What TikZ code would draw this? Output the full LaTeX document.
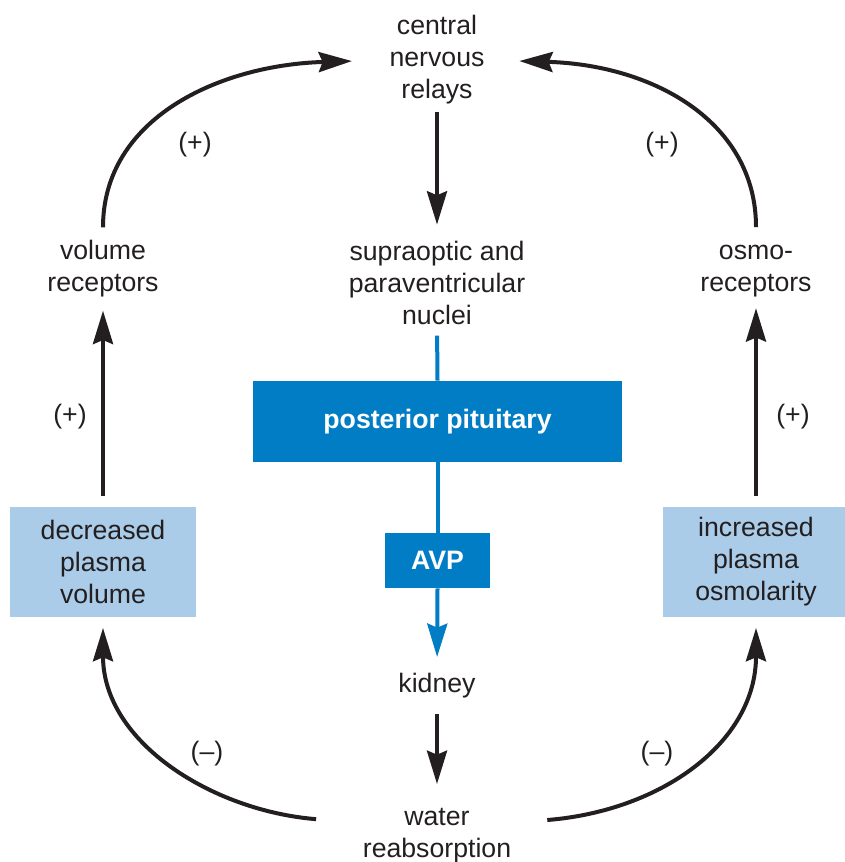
\documentclass[tikz,border=0pt]{standalone}
\usepackage{fontspec}
\setmainfont{Liberation Sans}
\usetikzlibrary{arrows.meta}
\definecolor{ink}{RGB}{35,31,32}
\definecolor{avpblue}{RGB}{0,125,197}
\definecolor{lightblue}{RGB}{171,204,232}
\begin{document}
\begin{tikzpicture}[x=0.75pt,y=-0.75pt,
  every node/.style={font=\fontsize{20}{24}\selectfont, text=ink},
  lbl/.style={inner sep=0pt, align=center},
  sign/.style={inner sep=0pt},
  box/.style={fill=lightblue, inner sep=0pt, minimum width=139.5pt, minimum height=82.5pt, align=center},
  bluebox/.style={fill=avpblue, inner sep=0pt, text=white, font=\fontsize{20}{24}\selectfont\bfseries},
  tip/.style={-{Stealth[length=25pt,width=15pt,inset=3pt]}},
  arr/.style={draw=ink, line width=3pt, tip},
  barr/.style={draw=avpblue, line width=3pt, tip},
  bline/.style={draw=avpblue, line width=3pt}]
\useasboundingbox (0,0) rectangle (844,862);

\node[lbl] (cnr) at (437,60) {central\\nervous\\relays};
\node[lbl] (son) at (437,283) {supraoptic and\\paraventricular\\nuclei};
\node[bluebox, minimum width=276.75pt, minimum height=60.75pt] (pp) at (437.5,421.5) {posterior pituitary};
\node[bluebox, minimum width=78.75pt, minimum height=41.25pt] (avp) at (437.5,560.5) {AVP};
\node[lbl] (kid) at (437,686) {kidney};
\node[lbl] (wat) at (437,836) {water\\reabsorption};
\node[lbl] (vol) at (103,269) {volume\\receptors};
\node[lbl] (osm) at (756,271) {osmo-\\receptors};
\node[box] (dec) at (103,562) {decreased\\plasma\\volume};
\node[box] (inc) at (756,562) {increased\\plasma\\osmolarity};

\node[sign] (s1) at (195,145) {(+)};
\node[sign] (s2) at (662,145) {(+)};
\node[sign] (s3) at (70,417) {(+)};
\node[sign] (s4) at (793,417) {(+)};
\node[sign] (s5) at (207,754) {(–)};
\node[sign] (s6) at (657,754) {(–)};

\draw[arr, shorten <=5.25pt, shorten >=12.25pt] (cnr.south) -- (son.north);
\draw[bline, shorten <=8pt] (son.south) -- (pp.north);
\draw[bline] (pp.south) -- (avp.north);
\draw[barr, shorten >=12.25pt] (avp.south) -- (kid.north);
\draw[arr, shorten <=11.75pt, shorten >=18.25pt] (kid.south) -- (wat.north);
\draw[arr, shorten <=8pt, shorten >=9.75pt] (dec.north) -- (vol.south);
\draw[arr, shorten <=8pt, shorten >=8.25pt] (inc.north) -- (osm.south);

\draw[arr, shorten <=9.75pt, shorten >=28pt] (vol.north) .. controls +(0,-122) and +(-170,5) .. (cnr.west);
\draw[arr, shorten <=13.25pt, shorten >=26pt] (osm.north) .. controls +(0,-122) and +(170,5) .. (cnr.east);
\draw[arr, shorten <=35pt, shorten >=8pt] (wat.170) .. controls +(-150,-12) and +(0,125) .. (dec.south);
\draw[arr, shorten <=27pt, shorten >=8pt] (wat.10) .. controls +(150,-12) and +(0,125) .. (inc.south);
\end{tikzpicture}
\end{document}
